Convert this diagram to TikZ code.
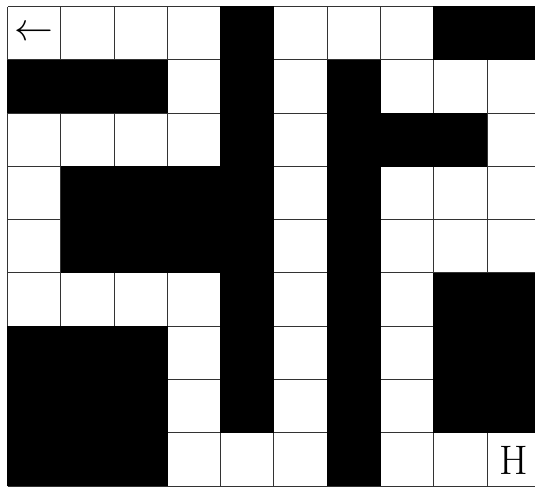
\documentclass[tikz,border=0pt]{standalone}
\begin{document}
\begin{tikzpicture}[x=1cm,y=1cm,
  wall/.style={fill=black},
  gridline/.style={draw=black!80, line width=0.5pt},
  bigtext/.style={font=\fontsize{22}{26}\selectfont, inner sep=0pt}]
\useasboundingbox (-0.141,-0.018) rectangle (9.900,9.122);
\clip (-0.141,-0.018) rectangle (9.900,9.122);
\draw[gridline] (0,0) grid (10,9);
% black cells: list of col/row (row 0 = top)
\foreach \c/\r in {4/0,8/0,9/0,
  0/1,1/1,2/1,4/1,6/1,
  4/2,6/2,7/2,8/2,
  1/3,2/3,3/3,4/3,6/3,
  1/4,2/4,3/4,4/4,6/4,
  4/5,6/5,8/5,9/5,
  0/6,1/6,2/6,4/6,6/6,8/6,9/6,
  0/7,1/7,2/7,4/7,6/7,8/7,9/7,
  0/8,1/8,2/8,6/8}
  \fill[wall] (\c-0.005,7.995-\r) rectangle ++(1.01,1.01);
\node[bigtext] (start) at (0.5,8.5) {$\leftarrow$};
\node[bigtext] (home) at (9.5,0.48) {H};
\end{tikzpicture}
\end{document}
